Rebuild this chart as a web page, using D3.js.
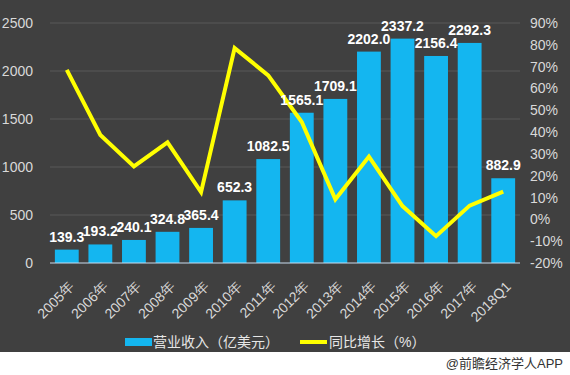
<!DOCTYPE html>
<html lang="zh">
<head>
<meta charset="UTF-8">
<title>营业收入</title>
<style>
    body { margin: 0; background: #fff; }
    svg { display: block; font-family: "Liberation Sans", Arial, "Noto Sans CJK SC", sans-serif; }
</style>
</head>
<body>
<svg id="chart"></svg>
<script src="https://cdn.jsdelivr.net/npm/d3@7/dist/d3.min.js"></script>
<script>
// data
const years = ["2005年", "2006年", "2007年", "2008年", "2009年", "2010年", "2011年",
               "2012年", "2013年", "2014年", "2015年", "2016年", "2017年", "2018Q1"];
const revenue = [139.3, 193.2, 240.1, 324.8, 365.4, 652.3, 1082.5,
                 1565.1, 1709.1, 2202.0, 2337.2, 2156.4, 2292.3, 882.9];
const growth = [68.5, 38.7, 24.3, 35.3, 12.5, 78.5, 66.0,
                44.6, 9.2, 28.8, 6.1, -7.7, 6.3, 12.7];
const leftTicks = [0, 500, 1000, 1500, 2000, 2500];
const rightTicks = [-20, -10, 0, 10, 20, 30, 40, 50, 60, 70, 80, 90];

const W = 570, H = 375;
const margin = {top: 23, right: 50, bottom: 112, left: 50};
const plotW = W - margin.left - margin.right;
const plotH = H - margin.top - margin.bottom;

const svg = d3.select("#chart").attr("width", W).attr("height", H);

// dark panel, white strip at bottom
svg.append("rect").attr("width", W).attr("height", 352).attr("fill", "#404040");

const g = svg.append("g")
    .attr("transform", "translate(" + margin.left + "," + margin.top + ")");

const x = d3.scaleBand().domain(years).range([0, plotW]).paddingInner(0.29).paddingOuter(0.145);
const yL = d3.scaleLinear().domain([0, 2500]).range([plotH, 0]);
const yR = d3.scaleLinear().domain([-20, 90]).range([plotH, 0]);

// grid
g.selectAll("line.grid").data(leftTicks.slice(1)).enter()
    .append("line")
    .attr("x1", 0).attr("x2", plotW)
    .attr("y1", d => yL(d)).attr("y2", d => yL(d))
    .attr("stroke", "#595959").attr("stroke-width", 1);

// left axis
const axL = g.append("g").call(d3.axisLeft(yL).tickValues(leftTicks)
    .tickFormat(d3.format("d")).tickSize(0).tickPadding(17));
axL.select(".domain").remove();
axL.selectAll("text").attr("fill", "#d9d9d9").style("font-size", "14px");

// right axis
const axR = g.append("g").attr("transform", "translate(" + plotW + ",0)")
    .call(d3.axisRight(yR).tickValues(rightTicks).tickFormat(d => d + "%").tickSize(0).tickPadding(10));
axR.select(".domain").remove();
axR.selectAll("text").attr("fill", "#d9d9d9").style("font-size", "14px");

// bars
g.selectAll("rect.bar").data(revenue).enter()
    .append("rect")
    .attr("x", (d, i) => x(years[i]))
    .attr("y", d => yL(d))
    .attr("width", x.bandwidth())
    .attr("height", d => plotH - yL(d))
    .attr("fill", "#14b6f0");

// baseline
g.append("line")
    .attr("x1", 0).attr("x2", plotW)
    .attr("y1", plotH).attr("y2", plotH)
    .attr("stroke", "#c8dcef").attr("stroke-width", 1);

// x axis labels
const axX = g.append("g").attr("transform", "translate(0," + plotH + ")")
    .call(d3.axisBottom(x).tickSize(0));
axX.select(".domain").remove();
axX.selectAll("text")
    .attr("fill", "#d9d9d9").style("font-size", "14px")
    .attr("text-anchor", "end")
    .attr("x", 0).attr("y", 0)
    .attr("dy", "0.35em")
    .attr("transform", "translate(5,21) rotate(-45)");

// growth line
const line = d3.line()
    .x((d, i) => x(years[i]) + x.bandwidth() / 2)
    .y(d => yR(d));
g.append("path").datum(growth)
    .attr("d", line)
    .attr("fill", "none")
    .attr("stroke", "#ffff00")
    .attr("stroke-width", 4)
    .attr("stroke-linejoin", "miter");

// value labels
g.selectAll("text.val").data(revenue).enter()
    .append("text")
    .attr("x", (d, i) => x(years[i]) + x.bandwidth() / 2)
    .attr("y", d => yL(d) - 8)
    .attr("text-anchor", "middle")
    .attr("fill", "#ffffff")
    .style("font-size", "14px")
    .style("font-weight", "bold")
    .text(d => d.toFixed(1));

// legend
const leg = svg.append("g").style("font-size", "14px").attr("fill", "#e6e6e6");
leg.append("rect").attr("x", 125).attr("y", 338).attr("width", 27).attr("height", 8).attr("fill", "#14b6f0");
leg.append("text").attr("x", 153).attr("y", 347).text("营业收入（亿美元）");
leg.append("line").attr("x1", 300).attr("x2", 327).attr("y1", 342).attr("y2", 342)
    .attr("stroke", "#ffff00").attr("stroke-width", 4);
leg.append("text").attr("x", 329).attr("y", 347).text("同比增长（%）");

// source note
svg.append("text").attr("x", 563).attr("y", 368)
    .attr("text-anchor", "end")
    .attr("fill", "#333")
    .style("font-size", "13px")
    .text("@前瞻经济学人APP");
</script>
</body>
</html>
